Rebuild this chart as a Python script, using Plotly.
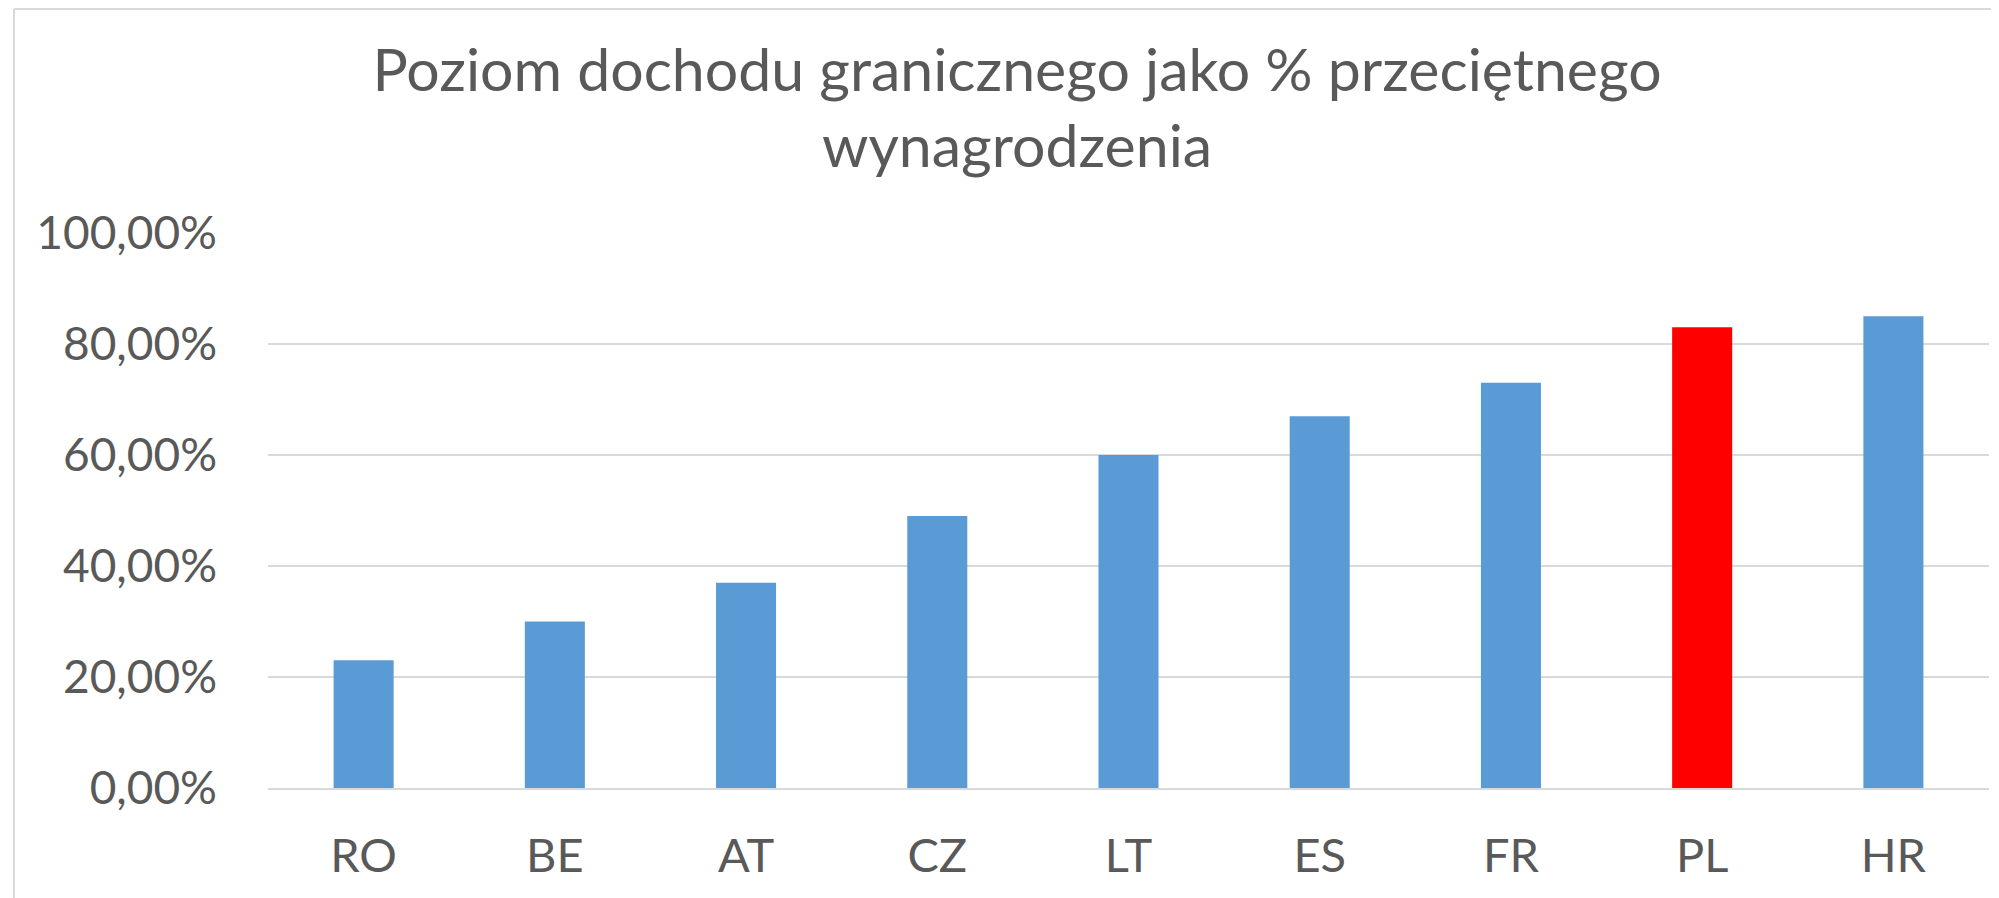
import plotly.graph_objects as go

# dane
kraje = ["RO", "BE", "AT", "CZ", "LT", "ES", "FR", "PL", "HR"]
poziom = [0.23, 0.30, 0.37, 0.49, 0.60, 0.67, 0.73, 0.83, 0.85]
kolory = ["#5b9bd5"] * 7 + ["#ff0000", "#5b9bd5"]

tytul = "Poziom dochodu granicznego jako % przeciętnego<br>wynagrodzenia"
szary = "#595959"

fig = go.Figure()
fig.add_trace(go.Bar(x=kraje, y=poziom, marker=dict(color=kolory, line_width=0)))

# strona ma 8 px marginesu, więc obszar wykresu przesunięty o 8 px
fig.update_layout(
    width=1999,
    height=898,
    paper_bgcolor="white",
    plot_bgcolor="white",
    separators=", ",
    bargap=0.686,
    showlegend=False,
    margin=dict(l=260, r=18, t=225, b=118),
    font=dict(family="Lato", color=szary),
    title=dict(
        text=tytul,
        x=0.5048, xanchor="center", xref="container",
        y=0.908, yanchor="top", yref="container",
        font=dict(size=59, color=szary, family="Lato"),
    ),
)

fig.update_yaxes(
    range=[0, 1],
    dtick=0.2,
    tickformat=".2%",
    showgrid=True,
    gridcolor="#d9d9d9",
    gridwidth=1.5,
    zeroline=False,
    showline=False,
    automargin=False,
    ticklabelstandoff=50,
    tickfont=dict(size=46, color=szary),
)
fig.update_xaxes(
    showline=True,
    linecolor="#d9d9d9",
    linewidth=1.5,
    ticks="",
    automargin=False,
    ticklabelstandoff=26,
    tickfont=dict(size=47, color=szary),
)

# ramka obszaru wykresu
lewa = (6 - 260) / 1721
gora = 1 + 224 / 555
fig.add_shape(type="line", xref="paper", yref="paper",
              x0=lewa, x1=lewa, y0=gora, y1=-118 / 555,
              line=dict(color="#d9d9d9", width=2))
fig.add_shape(type="line", xref="paper", yref="paper",
              x0=lewa, x1=1.02, y0=gora, y1=gora,
              line=dict(color="#d9d9d9", width=2))

fig.write_html("out.html")
